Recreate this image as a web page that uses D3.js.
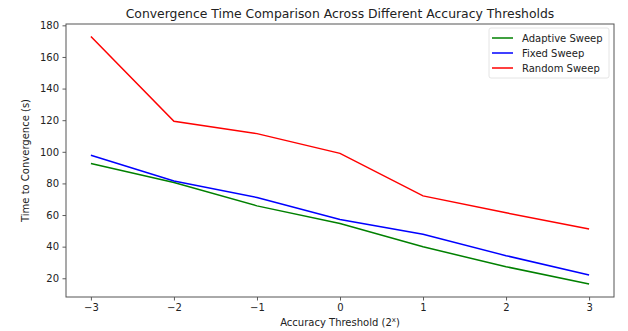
<!DOCTYPE html>
<html>
<head>
<meta charset="utf-8">
<script src="https://cdn.jsdelivr.net/npm/d3@7"></script>
<style>
body{margin:0;background:#fff;}
text{font-family:"DejaVu Sans",sans-serif;fill:#222;}
</style>
</head>
<body>
<svg width="628" height="331"></svg>
<script>
var thresholds = [-3, -2, -1, 0, 1, 2, 3];
var adaptive = [92.6, 80.6, 65.8, 54.7, 39.9, 27.3, 16.4];
var fixed = [97.8, 81.5, 71.1, 57.2, 47.8, 34.3, 22.1];
var random = [173, 119.3, 111.5, 99, 72.1, 61.4, 51.1];
var yTicks = [20, 40, 60, 80, 100, 120, 140, 160, 180];
var seriesNames = ["Adaptive Sweep", "Fixed Sweep", "Random Sweep"];
var seriesColors = ["green", "blue", "red"];

var svg = d3.select("svg");
// plot box (window.top is read-only, so no "top" var)
var pLeft = 66, pRight = 614, pTop = 24, pBottom = 297;

var x = d3.scaleLinear().domain([-3.3, 3.3]).range([pLeft, pRight]);
var y = d3.scaleLinear().domain([8.15, 180.85]).range([pBottom, pTop]);

// axes
var xAxis = svg.append("g").attr("transform", "translate(0," + pBottom + ")")
	.call(d3.axisBottom(x).tickValues(thresholds).tickSize(3.5).tickPadding(3.5)
		.tickFormat(function (d) { return d < 0 ? "\u2212" + (-d) : d; }));
var yAxis = svg.append("g").attr("transform", "translate(" + pLeft + ",0)")
	.call(d3.axisLeft(y).tickValues(yTicks).tickSize(3.5).tickPadding(3.5));
[xAxis, yAxis].forEach(function (g) {
	g.select(".domain").remove();
	g.selectAll("line").attr("stroke", "#333").attr("stroke-width", 0.8);
	g.selectAll("text").style("font-size", "10px").attr("fill", "#222");
});

svg.append("rect")
	.attr("x", pLeft).attr("y", pTop)
	.attr("width", pRight - pLeft).attr("height", pBottom - pTop)
	.attr("fill", "none").attr("stroke", "#555").attr("stroke-width", 1);

// lines
var line = d3.line()
	.x(function (d, i) { return x(thresholds[i]); })
	.y(function (d) { return y(d); });
[adaptive, fixed, random].forEach(function (s, k) {
	svg.append("path").datum(s)
		.attr("d", line)
		.attr("fill", "none")
		.attr("stroke", seriesColors[k])
		.attr("stroke-width", 1.5);
});

// title and labels
svg.append("text").attr("x", (pLeft + pRight) / 2).attr("y", 18)
	.attr("text-anchor", "middle").style("font-size", "12.4px")
	.text("Convergence Time Comparison Across Different Accuracy Thresholds");
var xl = svg.append("text").attr("x", (pLeft + pRight) / 2).attr("y", 326)
	.attr("text-anchor", "middle").style("font-size", "10px")
	.text("Accuracy Threshold (2");
xl.append("tspan").attr("dy", -4).style("font-size", "7px").text("x");
xl.append("tspan").attr("dy", 4).text(")");
svg.append("text")
	.attr("transform", "translate(29," + (pTop + pBottom) / 2 + ") rotate(-90)")
	.attr("text-anchor", "middle").style("font-size", "10px")
	.text("Time to Convergence (s)");

// legend
var lg = svg.append("g");
lg.append("rect").attr("x", 489).attr("y", 28).attr("width", 120).attr("height", 50)
	.attr("rx", 2).attr("fill", "#fff").attr("stroke", "#ddd").attr("stroke-width", 0.8);
seriesNames.forEach(function (n, i) {
	var yy = 38 + i * 15;
	lg.append("line").attr("x1", 492).attr("x2", 513).attr("y1", yy).attr("y2", yy)
		.attr("stroke", seriesColors[i]).attr("stroke-width", 1.5);
	lg.append("text").attr("x", 522).attr("y", yy + 3.5).style("font-size", "10px").text(n);
});
</script>
</body>
</html>
